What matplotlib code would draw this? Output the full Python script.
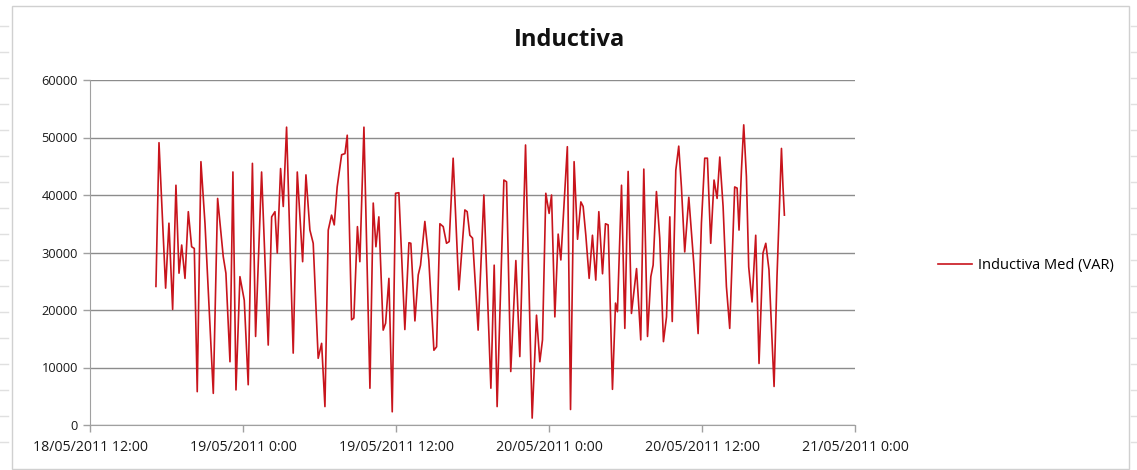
import datetime as dt
import matplotlib
matplotlib.use("Agg")
import matplotlib.pyplot as plt
from matplotlib.lines import Line2D
from matplotlib.patches import Rectangle

# ===== Data =====
start = dt.datetime(2011, 5, 18, 12, 0)

# hours after 18/05/2011 12:00
hours = [
    5.15, 5.39, 5.91, 6.17, 6.46, 6.72, 6.96, 7.17, 7.43, 7.69, 7.95, 8.16,
    8.39, 8.68, 9.00, 9.65, 9.99, 10.43, 10.64, 10.96, 11.19, 11.43, 11.74,
    12.08, 12.39, 12.72, 12.97, 13.44, 13.96, 14.23, 14.49, 14.67, 14.93,
    15.14, 15.40, 15.92, 16.24, 16.66, 16.92, 17.23, 17.49, 17.88, 18.15,
    18.41, 18.67, 18.93, 19.14, 19.37, 19.72, 19.98, 20.16, 20.50, 20.68,
    20.96, 21.15, 21.47, 21.94, 22.20, 22.41, 22.64, 22.98, 23.17, 23.43,
    23.69, 23.95, 24.21, 24.68, 25.00, 25.15, 25.47, 25.73, 25.91, 26.25,
    26.56, 26.96, 27.17, 27.43, 27.69, 27.95, 28.16, 28.47, 28.92, 29.39,
    29.57, 29.78, 29.99, 30.43, 30.88, 31.43, 31.69, 31.92, 32.45, 32.66,
    32.99, 33.39, 33.70, 34.15, 34.67, 35.01, 35.27, 35.48, 35.74, 36.00,
    36.19, 36.45, 36.71, 36.92, 37.43, 37.68, 37.96, 38.23, 38.49, 38.67,
    38.88, 39.14, 39.40, 39.66, 39.90, 40.19, 40.42, 40.63, 40.97, 41.21,
    41.36, 41.68, 41.94, 42.20, 42.46, 42.86, 43.19, 43.43, 43.72, 43.98,
    44.16, 44.42, 44.68, 44.97, 45.21, 45.47, 45.66, 45.94, 46.17, 46.38,
    46.64, 46.96, 47.35, 47.69, 47.95, 48.21, 48.42, 48.68, 48.94, 49.18,
    49.39, 49.65, 49.91, 50.17, 50.56, 50.75, 50.90, 51.09, 51.27, 51.48,
    51.66, 51.92, 52.21, 52.47, 52.78, 53.00, 53.25, 53.65, 53.88, 54.23,
    54.35, 54.46,
]

inductiva = [
    24100, 49100, 23800, 35100, 20100, 41700, 26400, 31300, 25500, 37100, 31000, 30700,
    5800, 45800, 35000, 5500, 39400, 29300, 26400, 11000, 44000, 6100, 25800,
    21700, 7000, 45500, 15400, 44000, 13900, 36200, 37100, 29900, 44600,
    38000, 51800, 12500, 44000, 28400, 43500, 33900, 31600, 11600, 14200,
    3200, 33900, 36500, 34800, 41400, 47000, 47200, 50400, 18300, 18600,
    34500, 28400, 51800, 6400, 38600, 31000, 36200, 16500, 17700, 25500,
    2300, 40300, 40400, 16600, 31700, 31600, 18100, 26100, 27800, 35400,
    28700, 13000, 13600, 35000, 34500, 31600, 31900, 46400, 23500, 37400,
    37100, 33000, 32500, 16500, 40000, 6400, 27800, 3200, 42600, 42300,
    9300, 28600, 11900, 48700, 1200, 19100, 11000, 14800, 40300, 36800,
    40000, 18800, 33200, 28700, 48400, 2700, 45800, 32300, 38800, 38000,
    33000, 25500, 33000, 25200, 37100, 26300, 35000, 34800, 6200, 21200,
    19700, 41700, 16800, 44100, 19400, 27200, 14800, 44500, 15400, 25800,
    27800, 40600, 32500, 14500, 18800, 36200, 18000, 44300, 48500, 41400,
    30100, 39600, 28100, 15900, 35100, 46400, 46400, 31600, 42600, 39400,
    46600, 38000, 24100, 16800, 41400, 41200, 33900, 44300, 52200, 43200,
    27500, 21400, 33000, 10700, 29900, 31600, 27000, 6700, 25800, 48100,
    41400, 36500,
]

times = [start + dt.timedelta(hours=h) for h in hours]

y_ticks = [0, 10000, 20000, 30000, 40000, 50000, 60000]
x_ticks = [start + dt.timedelta(hours=12 * i) for i in range(6)]
x_labels = ["18/05/2011 12:00", "19/05/2011 0:00", "19/05/2011 12:00",
            "20/05/2011 0:00", "20/05/2011 12:00", "21/05/2011 0:00"]

# ===== Plot =====
plt.rcParams["font.family"] = ["Open Sans", "DejaVu Sans"]
W, H = 1137, 470
fig = plt.figure(figsize=(W / 100, H / 100), dpi=100)

# chart frame + spreadsheet row marks outside it
fig.add_artist(Rectangle((12 / W, 1 - 469 / H), (1129 - 12) / W, (469 - 6) / H,
                         transform=fig.transFigure, fill=False,
                         edgecolor="#d0d0d0", linewidth=1))
for ry in range(26, 460, 26):
    fig.add_artist(Line2D([0, 8 / W], [1 - ry / H] * 2, transform=fig.transFigure,
                          color="#e0e0e0", linewidth=1))
    fig.add_artist(Line2D([1131 / W, 1], [1 - ry / H] * 2, transform=fig.transFigure,
                          color="#e0e0e0", linewidth=1))

ax = fig.add_axes([90.3 / W, 1 - 425 / H, (855 - 90.3) / W, (425 - 80) / H])
ax.plot(times, inductiva, color="#c8141c", linewidth=1.2, label="Inductiva Med (VAR)")

ax.set_ylim(0, 60000)
ax.set_xlim(x_ticks[0], x_ticks[-1])
ax.set_yticks(y_ticks)
ax.set_yticklabels([str(v) for v in y_ticks])
ax.set_xticks(x_ticks)
ax.set_xticklabels(x_labels)

ax.grid(axis="y", color="#8c8c8c", linewidth=1)
ax.set_axisbelow(True)
for s in ["top", "right"]:
    ax.spines[s].set_visible(False)
for s in ["left", "bottom"]:
    ax.spines[s].set_color("#a0a0a0")
ax.tick_params(axis="both", colors="#a0a0a0", length=5, width=1,
               labelcolor="#1a1a1a")
ax.tick_params(axis="y", pad=4, labelsize=9.2)
ax.tick_params(axis="x", pad=6, labelsize=10.2)

fig.text(570 / W, 1 - 40 / H, "Inductiva", ha="center", va="center",
         fontsize=17, fontweight="bold", color="#111111")

ax.legend(loc="center left", bbox_to_anchor=(925 / W, 1 - 266 / H),
          bbox_transform=fig.transFigure, frameon=False, fontsize=10.5,
          handlelength=2.3, handletextpad=0.45)

fig.savefig("out.png", dpi=100)
